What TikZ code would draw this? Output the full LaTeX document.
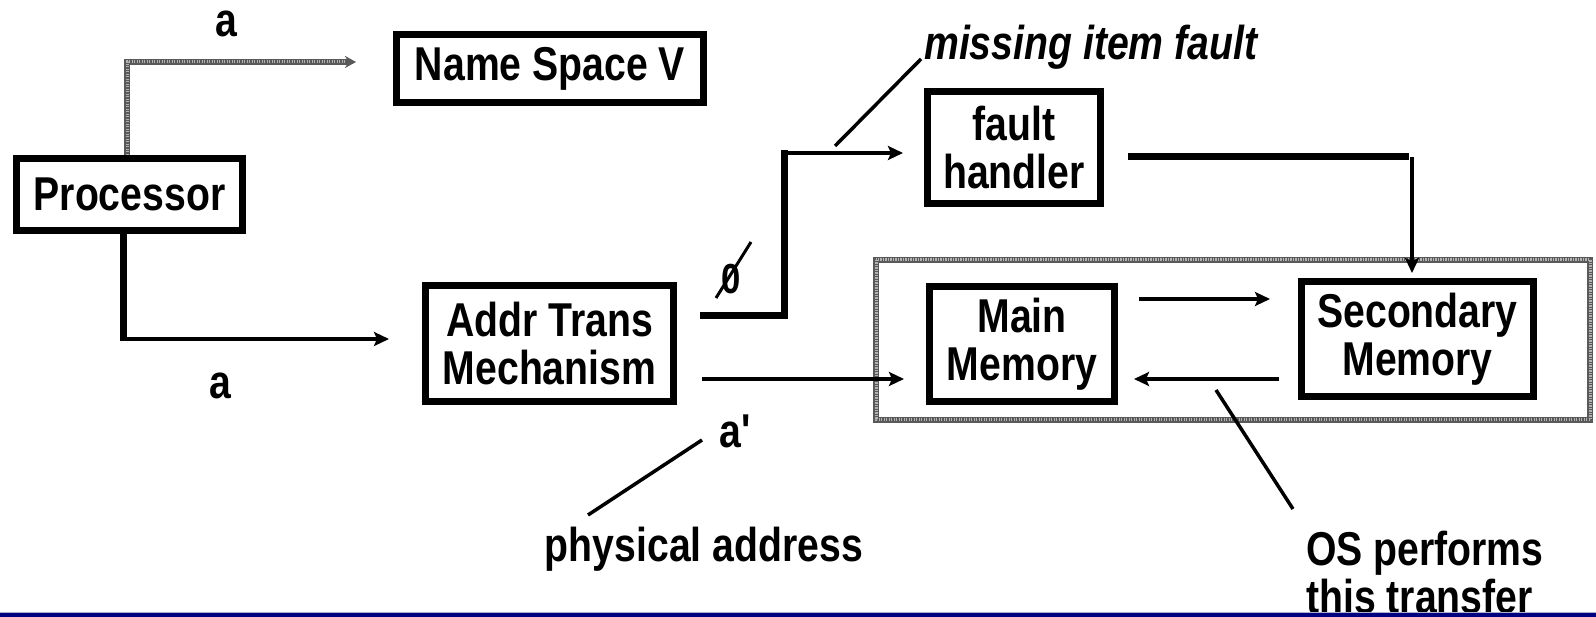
\documentclass[tikz,border=0pt]{standalone}
\usepackage{fontspec}
\setmainfont{Liberation Sans}[FakeStretch=0.825]
\usetikzlibrary{arrows.meta}
\newcommand\diagfont{\fontsize{47.5}{48}\selectfont\bfseries}
\definecolor{barnavy}{RGB}{0,0,128}
\definecolor{barline}{RGB}{170,175,205}
\tikzset{
  box/.style={draw, line width=7pt, inner sep=0pt, align=center, font=\diagfont},
  lbl/.style={inner sep=0pt, font=\diagfont},
  heavy/.style={line width=7pt},
  conn/.style={line width=4pt, -{Stealth[length=15pt,width=14pt,inset=3pt]}},
  lead/.style={line width=3.5pt},
  texbase/.style={line width=5.5pt, draw=black!65},
  texspeck/.style={line width=3pt, draw=black!30, dash pattern=on 1.2pt off 1.3pt},
}
\begin{document}
\begin{tikzpicture}[x=1pt,y=-1pt]
\useasboundingbox (0,0) rectangle (1596,617);
\fill[white] (0,0) rectangle (1596,617);

% memory hierarchy frame
\draw[texbase] (876,260) rectangle (1590,420);
\draw[texspeck] (876,260) rectangle (1590,420);

% blocks
\node[box, minimum width=226pt, minimum height=72pt] (proc) at (129.5,194.5) {Processor};
\node[box, minimum width=307pt, minimum height=68pt] (ns) at (550,68.5) {Name Space V};
\node[box, minimum width=248pt, minimum height=116pt] (atm) at (549.5,343.5) {Addr Trans\\Mechanism};
\node[box, minimum width=173pt, minimum height=112pt] (fh) at (1014,147.5) {fault\\handler};
\node[box, minimum width=185pt, minimum height=115pt] (mm) at (1022,344) {Main\\Memory};
\node[box, minimum width=232pt, minimum height=115pt] (sm) at (1417.5,339) {Secondary\\Memory};

% virtual name path
\coordinate (nsend) at (356,62);
\draw[texbase, -{Stealth[length=11pt,width=12pt]}] ([xshift=-2.5pt]proc.north) |- (nsend);
\draw[texspeck, shorten >=10pt] ([xshift=-2.5pt]proc.north) |- (nsend);
\node[lbl, anchor=base] (atop) at (226,37) {a};

% processor to address translation
\coordinate (c1) at (123,339);
\draw[heavy] ([xshift=-6.5pt]proc.south) -- ([yshift=-2pt]c1);
\draw[conn, shorten >=33pt] (c1) -- (c1 -| atm.west);
\node[lbl, anchor=base] (abot) at (220,399) {a};

% translation fails: fault path
\coordinate (f0) at (700,316);
\coordinate (f1) at (784,153);
\draw[heavy] (f0) -| ([yshift=3pt]f1);
\draw[conn, shorten >=21pt] ([xshift=-3pt]f1) -- (f1 -| fh.west);
\node[lbl, font=\fontsize{42}{42}\selectfont\bfseries, anchor=base] (nul) at (731,294) {0};
\coordinate (sl0) at (716,298);
\coordinate (sl1) at (751,242);
\draw[line width=3pt] (sl0) -- (sl1);

% missing item fault label
\node[lbl, font=\diagfont\itshape, anchor=base west] (mif) at (924,60) {missing item fault};
\coordinate (mif0) at (835,146);
\coordinate (mif1) at (921,59);
\draw[lead] (mif0) -- (mif1);

% fault handler to secondary memory
\coordinate (h0) at (1128,157);
\coordinate (h1) at (1409,157);
\coordinate (s0) at (1412,157);
\draw[heavy] (h0) -- (h1);
\draw[conn, shorten >=5pt] (s0) -- (s0 |- sm.north);

% translation succeeds: physical address
\coordinate (a0) at (702,379);
\draw[conn, shorten >=22pt] (a0) -- (a0 -| mm.west);
\node[lbl, anchor=base] (apr) at (736,448) {a\textquotesingle};
\coordinate (pa0) at (702,440);
\coordinate (pa1) at (588,515);
\draw[lead] (pa0) -- (pa1);
\node[lbl, anchor=base] (phys) at (704,561) {physical address};

% transfers between memories
\coordinate (m0) at (1139,299);
\draw[conn, shorten >=28pt] (m0) -- (m0 -| sm.west);
\coordinate (m1) at (1279,379);
\draw[conn, shorten >=16pt] (m1) -- (m1 -| mm.east);
\coordinate (os0) at (1216,390);
\coordinate (os1) at (1293,509);
\draw[lead] (os0) -- (os1);
\node[lbl, align=left, anchor=base west] (os) at (1306,613) {OS performs\\this transfer};

% footer rule
\fill[barline] (0,611.5) rectangle (1596,613);
\fill[barnavy] (0,613) rectangle (1596,617);
\end{tikzpicture}
\end{document}
